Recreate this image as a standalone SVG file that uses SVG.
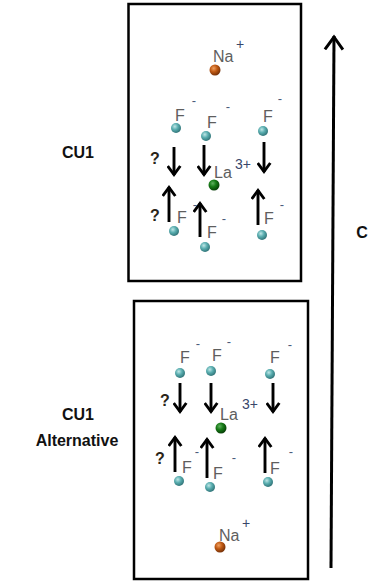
<svg xmlns="http://www.w3.org/2000/svg" width="368" height="588" viewBox="0 0 368 588">
  <style>
    .box { fill: #ffffff; stroke: #000000; stroke-width: 2.5; }
    .atom { font-family: "Liberation Sans", Arial, sans-serif; font-size: 16px; fill: #5e5e5e; }
    .sup { font-family: "Liberation Sans", Arial, sans-serif; font-size: 14px; fill: #38466a; }
    .minus { font-family: "Liberation Sans", Arial, sans-serif; font-size: 13px; fill: #4a5a7a; text-anchor: middle; }
    .q { font-family: "Liberation Sans", Arial, sans-serif; font-size: 16px; font-weight: bold; fill: #2a2418; }
    .title { font-family: "Liberation Sans", Arial, sans-serif; font-size: 16px; font-weight: bold; fill: #111111; text-anchor: middle; }
    .disp { stroke: #000000; stroke-width: 2.9; fill: none; marker-end: url(#chev); }
    .axis { stroke: #000000; stroke-width: 3; fill: none; marker-end: url(#bighead); }
  </style>
  <defs>
    <radialGradient id="gF" cx="0.38" cy="0.35" r="0.7">
      <stop offset="0" stop-color="#bfe6e6"/>
      <stop offset="0.45" stop-color="#5aaeb0"/>
      <stop offset="1" stop-color="#2c6e72"/>
    </radialGradient>
    <radialGradient id="gNa" cx="0.38" cy="0.35" r="0.7">
      <stop offset="0" stop-color="#f0a060"/>
      <stop offset="0.45" stop-color="#c05a14"/>
      <stop offset="1" stop-color="#6e2c06"/>
    </radialGradient>
    <radialGradient id="gLa" cx="0.38" cy="0.35" r="0.7">
      <stop offset="0" stop-color="#60b060"/>
      <stop offset="0.45" stop-color="#167a16"/>
      <stop offset="1" stop-color="#063806"/>
    </radialGradient>
    <!-- open V heads pointing along the line direction -->
    <marker id="chev" viewBox="0 0 12 15" refX="10" refY="7.5" markerWidth="12" markerHeight="15" markerUnits="userSpaceOnUse" orient="auto">
      <path d="M1 1.2 L9.5 7.5 L1 13.8" fill="none" stroke="#000" stroke-width="2.9"/>
    </marker>
    <marker id="bighead" viewBox="0 0 16 22" refX="14.5" refY="11" markerWidth="16" markerHeight="22" markerUnits="userSpaceOnUse" orient="auto">
      <path d="M1 2 L13.5 11 L1 20" fill="none" stroke="#000" stroke-width="3"/>
    </marker>
  </defs>

  <!-- unit cell CU1 -->
  <g id="cu1">
    <rect class="box" x="128.5" y="4" width="172.5" height="277"/>
    <g id="cu1-na">
      <text class="atom" x="213" y="62">Na</text>
      <text class="sup" x="236" y="49">+</text>
      <circle cx="215" cy="70" r="5.5" fill="url(#gNa)"/>
    </g>
    <g id="cu1-f-top">
      <text class="atom" x="175" y="121">F</text>
      <text class="minus" x="194" y="105">-</text>
      <circle cx="176" cy="128" r="5" fill="url(#gF)"/>
      <text class="atom" x="207" y="128">F</text>
      <text class="minus" x="228" y="111">-</text>
      <circle cx="206" cy="136" r="5" fill="url(#gF)"/>
      <text class="atom" x="263" y="122">F</text>
      <text class="minus" x="280" y="103">-</text>
      <circle cx="263" cy="131" r="5" fill="url(#gF)"/>
    </g>
    <g id="cu1-la">
      <text class="atom" x="214" y="178">La</text>
      <text class="sup" x="235" y="169">3+</text>
      <circle cx="214" cy="185" r="5.5" fill="url(#gLa)"/>
    </g>
    <g id="cu1-f-bottom">
      <text class="atom" x="177" y="223">F</text>
      <text class="minus" x="195" y="209">-</text>
      <circle cx="174" cy="231" r="5" fill="url(#gF)"/>
      <text class="atom" x="207" y="238">F</text>
      <text class="minus" x="224" y="223">-</text>
      <circle cx="205" cy="247" r="5" fill="url(#gF)"/>
      <text class="atom" x="264" y="224">F</text>
      <text class="minus" x="282" y="209">-</text>
      <circle cx="262" cy="235" r="5" fill="url(#gF)"/>
    </g>
    <text class="q" x="150" y="164">?</text>
    <text class="q" x="150" y="221">?</text>
  </g>

  <!-- unit cell CU1, alternative setting -->
  <g id="cu1-alt">
    <rect class="box" x="134" y="301" width="174" height="278"/>
    <g id="alt-f-top">
      <text class="atom" x="180" y="363">F</text>
      <text class="minus" x="198" y="348">-</text>
      <circle cx="180" cy="373" r="5" fill="url(#gF)"/>
      <text class="atom" x="212" y="361">F</text>
      <text class="minus" x="229" y="346">-</text>
      <circle cx="211" cy="371" r="5" fill="url(#gF)"/>
      <text class="atom" x="270" y="363">F</text>
      <text class="minus" x="290" y="349">-</text>
      <circle cx="270" cy="374" r="5" fill="url(#gF)"/>
    </g>
    <g id="alt-la">
      <text class="atom" x="220" y="420">La</text>
      <text class="sup" x="242" y="409">3+</text>
      <circle cx="221" cy="428" r="5.5" fill="url(#gLa)"/>
    </g>
    <g id="alt-f-bottom">
      <text class="atom" x="182" y="473">F</text>
      <text class="minus" x="197" y="456">-</text>
      <circle cx="179" cy="481" r="5" fill="url(#gF)"/>
      <text class="atom" x="213" y="479">F</text>
      <text class="minus" x="234" y="462">-</text>
      <circle cx="210" cy="487" r="5" fill="url(#gF)"/>
      <text class="atom" x="270" y="474">F</text>
      <text class="minus" x="291" y="456">-</text>
      <circle cx="268" cy="482" r="5" fill="url(#gF)"/>
    </g>
    <g id="alt-na">
      <text class="atom" x="219" y="541">Na</text>
      <text class="sup" x="242" y="528">+</text>
      <circle cx="220" cy="547" r="5.5" fill="url(#gNa)"/>
    </g>
    <text class="q" x="160" y="406">?</text>
    <text class="q" x="155" y="464">?</text>
  </g>

  <!-- fluoride displacement arrows and the c axis -->
  <g id="connectors">
    <path class="disp" d="M174 147 V175"/>
    <path class="disp" d="M204 145 V175"/>
    <path class="disp" d="M264 142 V172"/>
    <path class="disp" d="M169 222 V187"/>
    <path class="disp" d="M200 237 V203"/>
    <path class="disp" d="M258 225 V190"/>
    <path class="disp" d="M180 383 V412"/>
    <path class="disp" d="M211 383 V412"/>
    <path class="disp" d="M273 383 V412"/>
    <path class="disp" d="M175 472 V437"/>
    <path class="disp" d="M207 478 V439"/>
    <path class="disp" d="M265 473 V438"/>
    <path id="c-axis" class="axis" d="M331 568 L334 36"/>
  </g>

  <g id="labels">
    <text class="title" x="78" y="158">CU1</text>
    <text class="title" x="78" y="420">CU1</text>
    <text class="title" x="77" y="446">Alternative</text>
    <text class="title" font-size="18" x="362" y="238">C</text>
  </g>
</svg>
